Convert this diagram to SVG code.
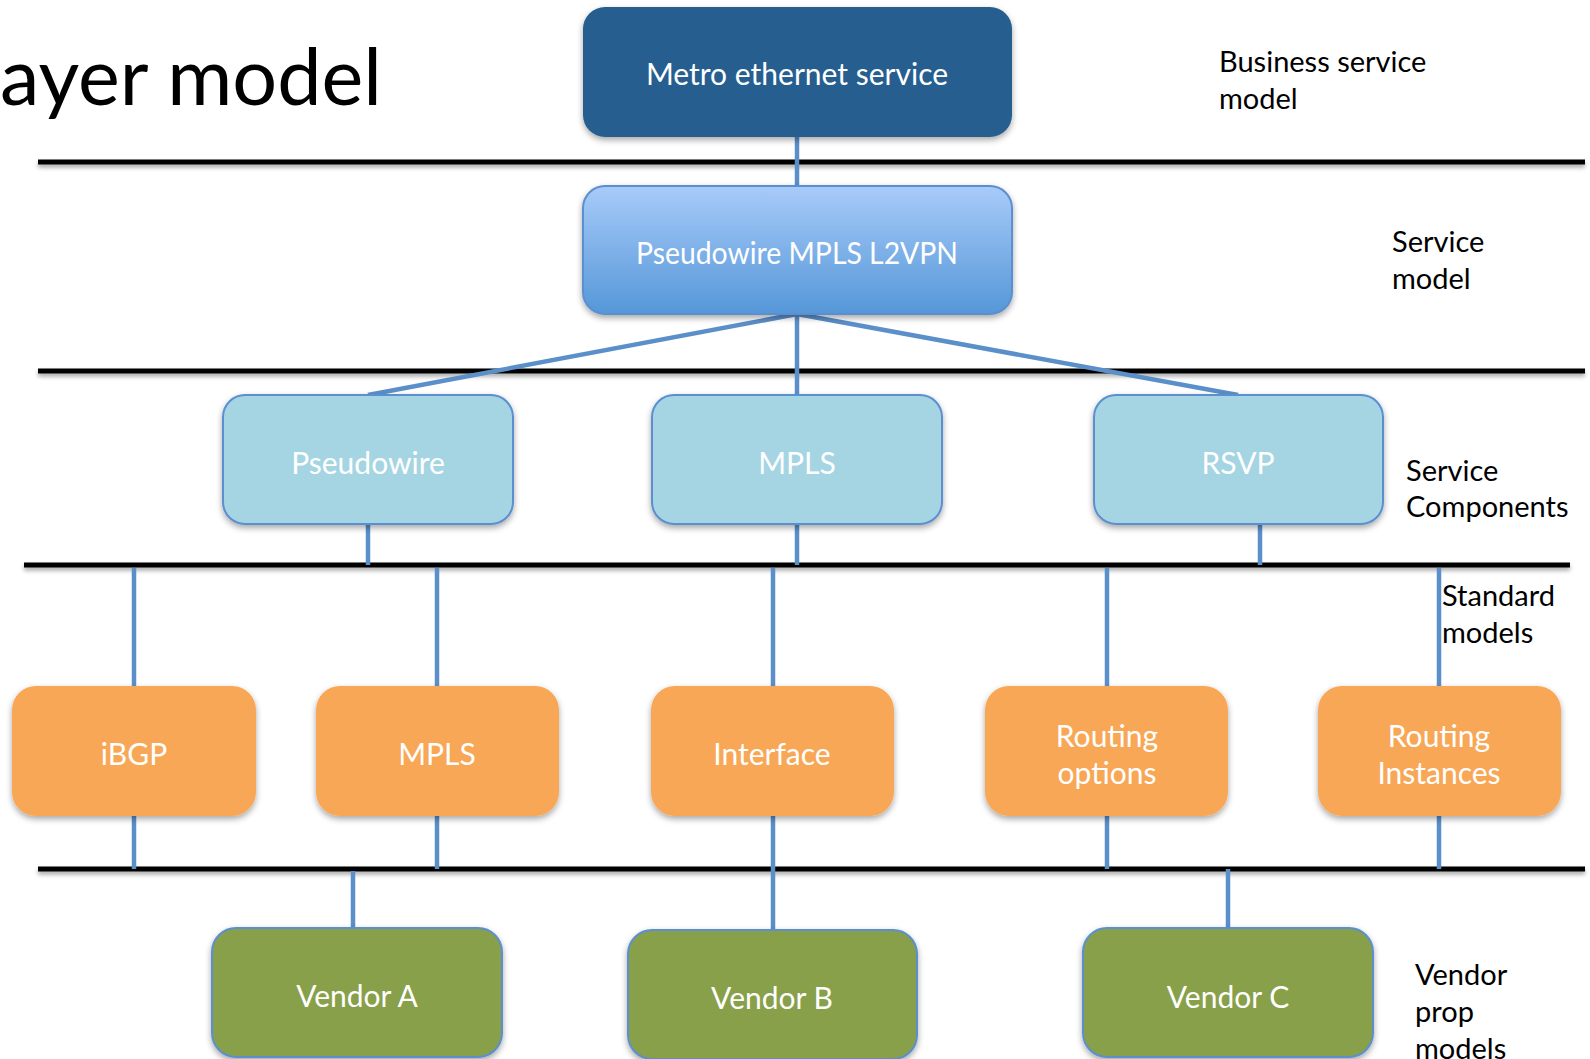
<svg xmlns="http://www.w3.org/2000/svg" width="1590" height="1059" viewBox="0 0 1590 1059">
<defs>
<style>
.layer{fill:#000;filter:url(#lsh)}
.conn line{stroke:#5b8fca;stroke-width:4.5;stroke-linecap:butt}
.lbl{font-family:Lato,"Open Sans",sans-serif;fill:#fff;font-size:30px;text-anchor:middle}
.side{font-family:Lato,"Open Sans",sans-serif;fill:#000;font-size:29px}
.title{font-family:Lato,"Open Sans",sans-serif;fill:#000;font-size:80px}
.metro{fill:#285e8f;filter:url(#sh)}
.pw{fill:url(#pwg);stroke:#5b8fd0;stroke-width:2;filter:url(#sh)}
.comp{fill:#a5d5e3;stroke:#5b8fd0;stroke-width:2;filter:url(#sh)}
.std{fill:#f8a756;filter:url(#sh)}
.ven{fill:#88a04a;stroke:#5b8fd0;stroke-width:2;filter:url(#sh)}
</style>
<linearGradient id="pwg" x1="0" y1="0" x2="0" y2="1">
<stop offset="0" stop-color="#a8cbf9"/>
<stop offset="1" stop-color="#5597d8"/>
</linearGradient>
<filter id="sh" x="-10%" y="-10%" width="120%" height="130%">
<feDropShadow dx="0" dy="3" stdDeviation="3" flood-color="#000" flood-opacity="0.35"/>
</filter>
<filter id="lsh" filterUnits="userSpaceOnUse" x="0" y="0" width="1590" height="1059">
<feDropShadow dx="0" dy="3" stdDeviation="2" flood-color="#000" flood-opacity="0.35"/>
</filter>
</defs>
<rect width="1590" height="1059" fill="#fff"/>
<text class="title" x="0" y="105" textLength="382" lengthAdjust="spacingAndGlyphs">ayer model</text>

<g id="layers">
<rect class="layer" x="38" y="159.5" width="1547" height="5"/>
<rect class="layer" x="38" y="368.5" width="1547" height="5"/>
<rect class="layer" x="24" y="562.5" width="1546" height="5"/>
<rect class="layer" x="38" y="866.5" width="1547" height="5"/>
</g>

<g id="side-labels">
<text class="side" x="1219" y="72">Business service</text>
<text class="side" x="1219" y="109">model</text>
<text class="side" x="1392" y="252">Service</text>
<text class="side" x="1392" y="289">model</text>
<text class="side" x="1406" y="481">Service</text>
<text class="side" x="1406" y="517">Components</text>
<text class="side" x="1442" y="606">Standard</text>
<text class="side" x="1442" y="643">models</text>
<text class="side" x="1415" y="985">Vendor</text>
<text class="side" x="1415" y="1022">prop</text>
<text class="side" x="1415" y="1059">models</text>
</g>

<g id="connectors" class="conn">
<line x1="797" y1="137" x2="797" y2="186"/>
<line x1="797" y1="314" x2="368" y2="395"/>
<line x1="797" y1="314" x2="797" y2="395"/>
<line x1="797" y1="314" x2="1238" y2="395"/>
<line x1="368" y1="524" x2="368" y2="565"/>
<line x1="797" y1="524" x2="797" y2="565"/>
<line x1="1260" y1="524" x2="1260" y2="565"/>
<line x1="134" y1="568" x2="134" y2="686"/>
<line x1="437" y1="568" x2="437" y2="686"/>
<line x1="773" y1="568" x2="773" y2="686"/>
<line x1="1107" y1="568" x2="1107" y2="686"/>
<line x1="1439" y1="568" x2="1439" y2="686"/>
<line x1="134" y1="816" x2="134" y2="869"/>
<line x1="437" y1="816" x2="437" y2="869"/>
<line x1="773" y1="816" x2="773" y2="930"/>
<line x1="1107" y1="816" x2="1107" y2="869"/>
<line x1="1439" y1="816" x2="1439" y2="869"/>
<line x1="353" y1="871" x2="353" y2="928"/>
<line x1="1228" y1="869" x2="1228" y2="928"/>
</g>

<g id="metro">
<rect class="metro" x="583" y="7" width="429" height="130" rx="22"/>
<text class="lbl" x="797" y="85">Metro ethernet service</text>
</g>
<g id="pw-l2vpn">
<rect class="pw" x="583" y="186" width="429" height="128" rx="22"/>
<text class="lbl" x="797" y="264" textLength="322" lengthAdjust="spacingAndGlyphs">Pseudowire MPLS L2VPN</text>
</g>

<g id="comp-pseudowire">
<rect class="comp" x="223" y="395" width="290" height="129" rx="22"/>
<text class="lbl" x="368" y="474">Pseudowire</text>
</g>
<g id="comp-mpls">
<rect class="comp" x="652" y="395" width="290" height="129" rx="22"/>
<text class="lbl" x="797" y="474">MPLS</text>
</g>
<g id="comp-rsvp">
<rect class="comp" x="1094" y="395" width="289" height="129" rx="22"/>
<text class="lbl" x="1238" y="474">RSVP</text>
</g>

<g id="std-ibgp">
<rect class="std" x="12" y="686" width="244" height="130" rx="24"/>
<text class="lbl" x="134" y="765">iBGP</text>
</g>
<g id="std-mpls">
<rect class="std" x="316" y="686" width="243" height="130" rx="24"/>
<text class="lbl" x="437" y="765">MPLS</text>
</g>
<g id="std-interface">
<rect class="std" x="651" y="686" width="243" height="130" rx="24"/>
<text class="lbl" x="772" y="765">Interface</text>
</g>
<g id="std-routing-options">
<rect class="std" x="985" y="686" width="243" height="130" rx="24"/>
<text class="lbl" x="1107" y="747">Routing</text>
<text class="lbl" x="1107" y="784">options</text>
</g>
<g id="std-routing-instances">
<rect class="std" x="1318" y="686" width="243" height="130" rx="24"/>
<text class="lbl" x="1439" y="747">Routing</text>
<text class="lbl" x="1439" y="784">Instances</text>
</g>

<g id="vendor-a">
<rect class="ven" x="212" y="928" width="290" height="129" rx="24"/>
<text class="lbl" x="357" y="1007">Vendor A</text>
</g>
<g id="vendor-b">
<rect class="ven" x="628" y="930" width="289" height="129" rx="24"/>
<text class="lbl" x="772" y="1009">Vendor B</text>
</g>
<g id="vendor-c">
<rect class="ven" x="1083" y="928" width="290" height="129" rx="24"/>
<text class="lbl" x="1228" y="1008">Vendor C</text>
</g>
</svg>
